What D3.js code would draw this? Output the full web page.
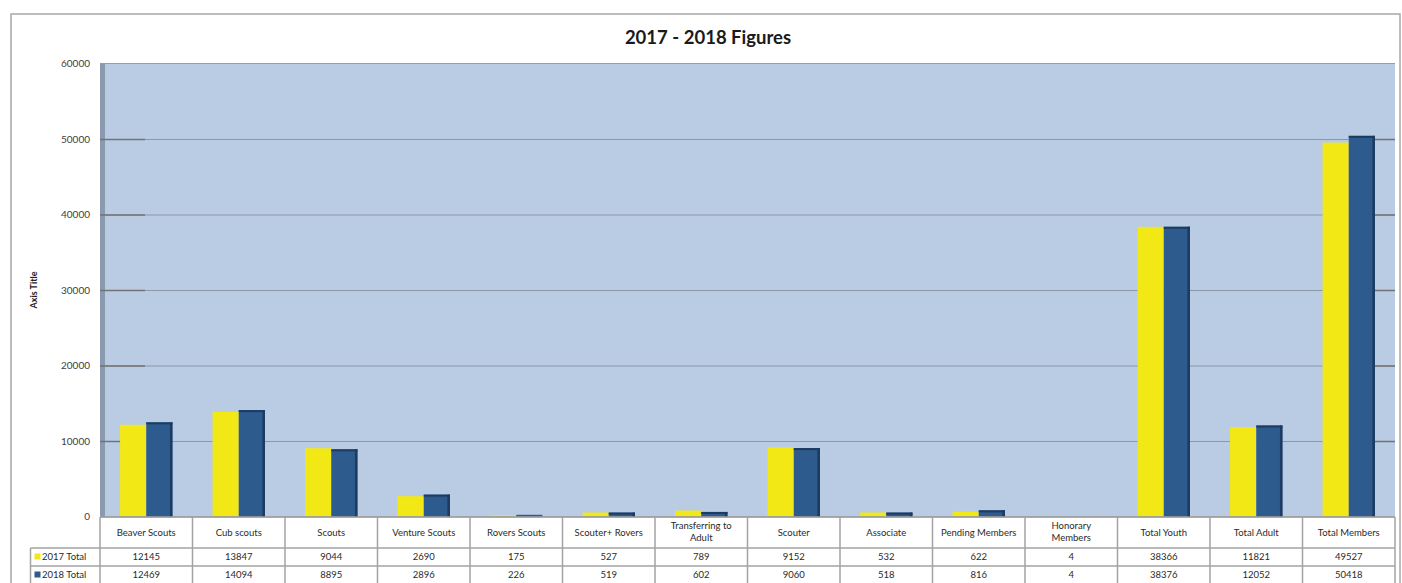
<!DOCTYPE html>
<html>
<head>
<meta charset="utf-8">
<script src="https://cdn.jsdelivr.net/npm/d3@7/dist/d3.min.js"></script>
<style>
  html, body { margin: 0; padding: 0; background: #fff; }
  svg { display: block; font-family: Lato, "Open Sans", sans-serif; }
</style>
</head>
<body>
<svg id="chart" width="1402" height="583"></svg>
<script>
const categories = [
  ["Beaver Scouts"], ["Cub scouts"], ["Scouts"], ["Venture Scouts"], ["Rovers Scouts"],
  ["Scouter+ Rovers"], ["Transferring to", "Adult"], ["Scouter"], ["Associate"],
  ["Pending Members"], ["Honorary", "Members"], ["Total Youth"], ["Total Adult"], ["Total Members"]
];
const values2017 = [12145, 13847, 9044, 2690, 175, 527, 789, 9152, 532, 622, 4, 38366, 11821, 49527];
const values2018 = [12469, 14094, 8895, 2896, 226, 519, 602, 9060, 518, 816, 4, 38376, 12052, 50418];
const seriesNames = ["2017 Total", "2018 Total"];
const yTicks = [0, 10000, 20000, 30000, 40000, 50000, 60000];
const title = "2017 - 2018 Figures";
const axisTitle = "Axis Title";

const svg = d3.select("#chart");
const plotL = 100, plotR = 1395, plotT = 63.5, plotB = 516.5;
const colYellow = "#F2E816", colBlue = "#2E5B8E", colBlueDark = "#1D3A60";

// outer chart border
svg.append("rect").attr("x", 11).attr("y", 14).attr("width", 1389).attr("height", 620)
  .attr("fill", "#fff").attr("stroke", "#A8A8A8").attr("stroke-width", 1.5);

// title
svg.append("text").attr("x", 708).attr("y", 44).attr("text-anchor", "middle")
  .attr("font-size", 18.5).attr("font-weight", 700).attr("fill", "#1a1a1a").text(title);

const keys = categories.map(c => c.join(" "));
const x = d3.scaleBand().domain(keys).range([plotL, plotR]).padding(0);
const y = d3.scaleLinear().domain([0, 60000]).range([plotB, plotT]);

// plot background
svg.append("rect").attr("x", plotL).attr("y", plotT).attr("width", plotR - plotL).attr("height", plotB - plotT)
  .attr("fill", "#B9CCE4");
// left wall
svg.append("rect").attr("x", plotL).attr("y", plotT).attr("width", 5).attr("height", plotB - plotT)
  .attr("fill", "#8A9AB0");
// top border
svg.append("line").attr("x1", plotL).attr("x2", plotR).attr("y1", plotT).attr("y2", plotT)
  .attr("stroke", "#9C9C9C").attr("stroke-width", 1.2);

// gridlines
const innerTicks = yTicks.filter(v => v > 0 && v < 60000);
const grid = svg.append("g").attr("transform", `translate(${plotL},0)`)
  .call(d3.axisLeft(y).tickValues(innerTicks).tickSize(-(plotR - plotL)).tickFormat(""));
grid.select(".domain").remove();
grid.selectAll("line").attr("stroke", "#8C98A8").attr("stroke-width", 1.2);

const gridL = svg.append("g").attr("transform", `translate(${plotL},0)`)
  .call(d3.axisLeft(y).tickValues(innerTicks).tickSize(-45).tickFormat(""));
gridL.select(".domain").remove();
gridL.selectAll("line").attr("stroke", "#737373").attr("stroke-width", 1.5);

const gridR = svg.append("g").attr("transform", `translate(${plotR},0)`)
  .call(d3.axisRight(y).tickValues(innerTicks).tickSize(-20).tickFormat(""));
gridR.select(".domain").remove();
gridR.selectAll("line").attr("stroke", "#737373").attr("stroke-width", 1.5);

// y tick labels
const yAxis = svg.append("g").attr("transform", `translate(${plotL - 10},0)`)
  .call(d3.axisLeft(y).tickValues(yTicks).tickSize(0).tickPadding(0).tickFormat(d3.format("d")));
yAxis.select(".domain").remove();
yAxis.selectAll("text").attr("font-size", 10).attr("fill", "#404040").attr("font-family", "Lato, sans-serif");

// axis title
svg.append("text").attr("transform", "translate(37,290) rotate(-90)").attr("text-anchor", "middle")
  .attr("font-size", 9).attr("font-weight", 700).attr("fill", "#222").text(axisTitle);

// bars
const barW = x.bandwidth() * 0.283;
const g = svg.append("g");
keys.forEach((k, i) => {
  const cx = x(k) + x.bandwidth() / 2;
  const v1 = values2017[i], v2 = values2018[i];
  g.append("rect").attr("x", cx - barW).attr("y", y(v1)).attr("width", barW).attr("height", plotB - y(v1))
    .attr("fill", colYellow);
  g.append("rect").attr("x", cx).attr("y", y(v2)).attr("width", barW).attr("height", plotB - y(v2))
    .attr("fill", colBlue);
  const h2 = plotB - y(v2);
  if (h2 > 2) {
    g.append("rect").attr("x", cx + barW - 2.5).attr("y", y(v2)).attr("width", 2.5).attr("height", h2)
      .attr("fill", colBlueDark);
    g.append("rect").attr("x", cx).attr("y", y(v2)).attr("width", barW).attr("height", 2)
      .attr("fill", colBlueDark);
  }
});

// data table
const rowTop = 517, row1B = 548, row2B = 566, row3B = 584;
const legL = 30.5;
const tbl = svg.append("g");
const lineCol = "#A3A3A3";
tbl.append("line").attr("x1", plotL).attr("x2", plotR).attr("y1", rowTop).attr("y2", rowTop)
  .attr("stroke", "#8E8E8E").attr("stroke-width", 1.5);
[row1B, row2B, row3B].forEach(yy => {
  tbl.append("line").attr("x1", legL).attr("x2", plotR).attr("y1", yy).attr("y2", yy)
    .attr("stroke", lineCol).attr("stroke-width", 1.5);
});
keys.forEach(k => {
  tbl.append("line").attr("x1", x(k)).attr("x2", x(k)).attr("y1", rowTop).attr("y2", row3B)
    .attr("stroke", lineCol).attr("stroke-width", 1.5);
});
tbl.append("line").attr("x1", plotR).attr("x2", plotR).attr("y1", rowTop).attr("y2", row3B)
  .attr("stroke", lineCol).attr("stroke-width", 1.5);
tbl.append("line").attr("x1", legL).attr("x2", legL).attr("y1", row1B).attr("y2", row3B)
  .attr("stroke", lineCol).attr("stroke-width", 1.5);

// category labels
categories.forEach((lines, i) => {
  const cx = x(keys[i]) + x.bandwidth() / 2;
  const cy = (rowTop + row1B) / 2;
  const t = tbl.append("text").attr("x", cx).attr("text-anchor", "middle")
    .attr("font-size", 9.5).attr("fill", "#2a2a2a");
  if (lines.length === 1) {
    t.attr("y", cy + 3.4).text(lines[0]);
  } else {
    lines.forEach((ln, j) => {
      t.append("tspan").attr("x", cx).attr("y", cy - 3.8 + j * 12).text(ln);
    });
  }
});

// values rows
const rows = [values2017, values2018];
const rowCenters = [(row1B + row2B) / 2, (row2B + row3B) / 2];
const legendCols = [colYellow, colBlue];
rows.forEach((vals, r) => {
  const cy = rowCenters[r];
  vals.forEach((v, i) => {
    tbl.append("text").attr("x", x(keys[i]) + x.bandwidth() / 2).attr("y", cy + 3.3)
      .attr("text-anchor", "middle").attr("font-size", 9.5).attr("fill", "#2a2a2a").text(v);
  });
  tbl.append("rect").attr("x", 34.5).attr("y", cy - 3.5).attr("width", 6).attr("height", 6)
    .attr("fill", legendCols[r]);
  tbl.append("text").attr("x", 42).attr("y", cy + 3.3).attr("font-size", 9.5).attr("fill", "#2a2a2a")
    .text(seriesNames[r]);
});
</script>
</body>
</html>
